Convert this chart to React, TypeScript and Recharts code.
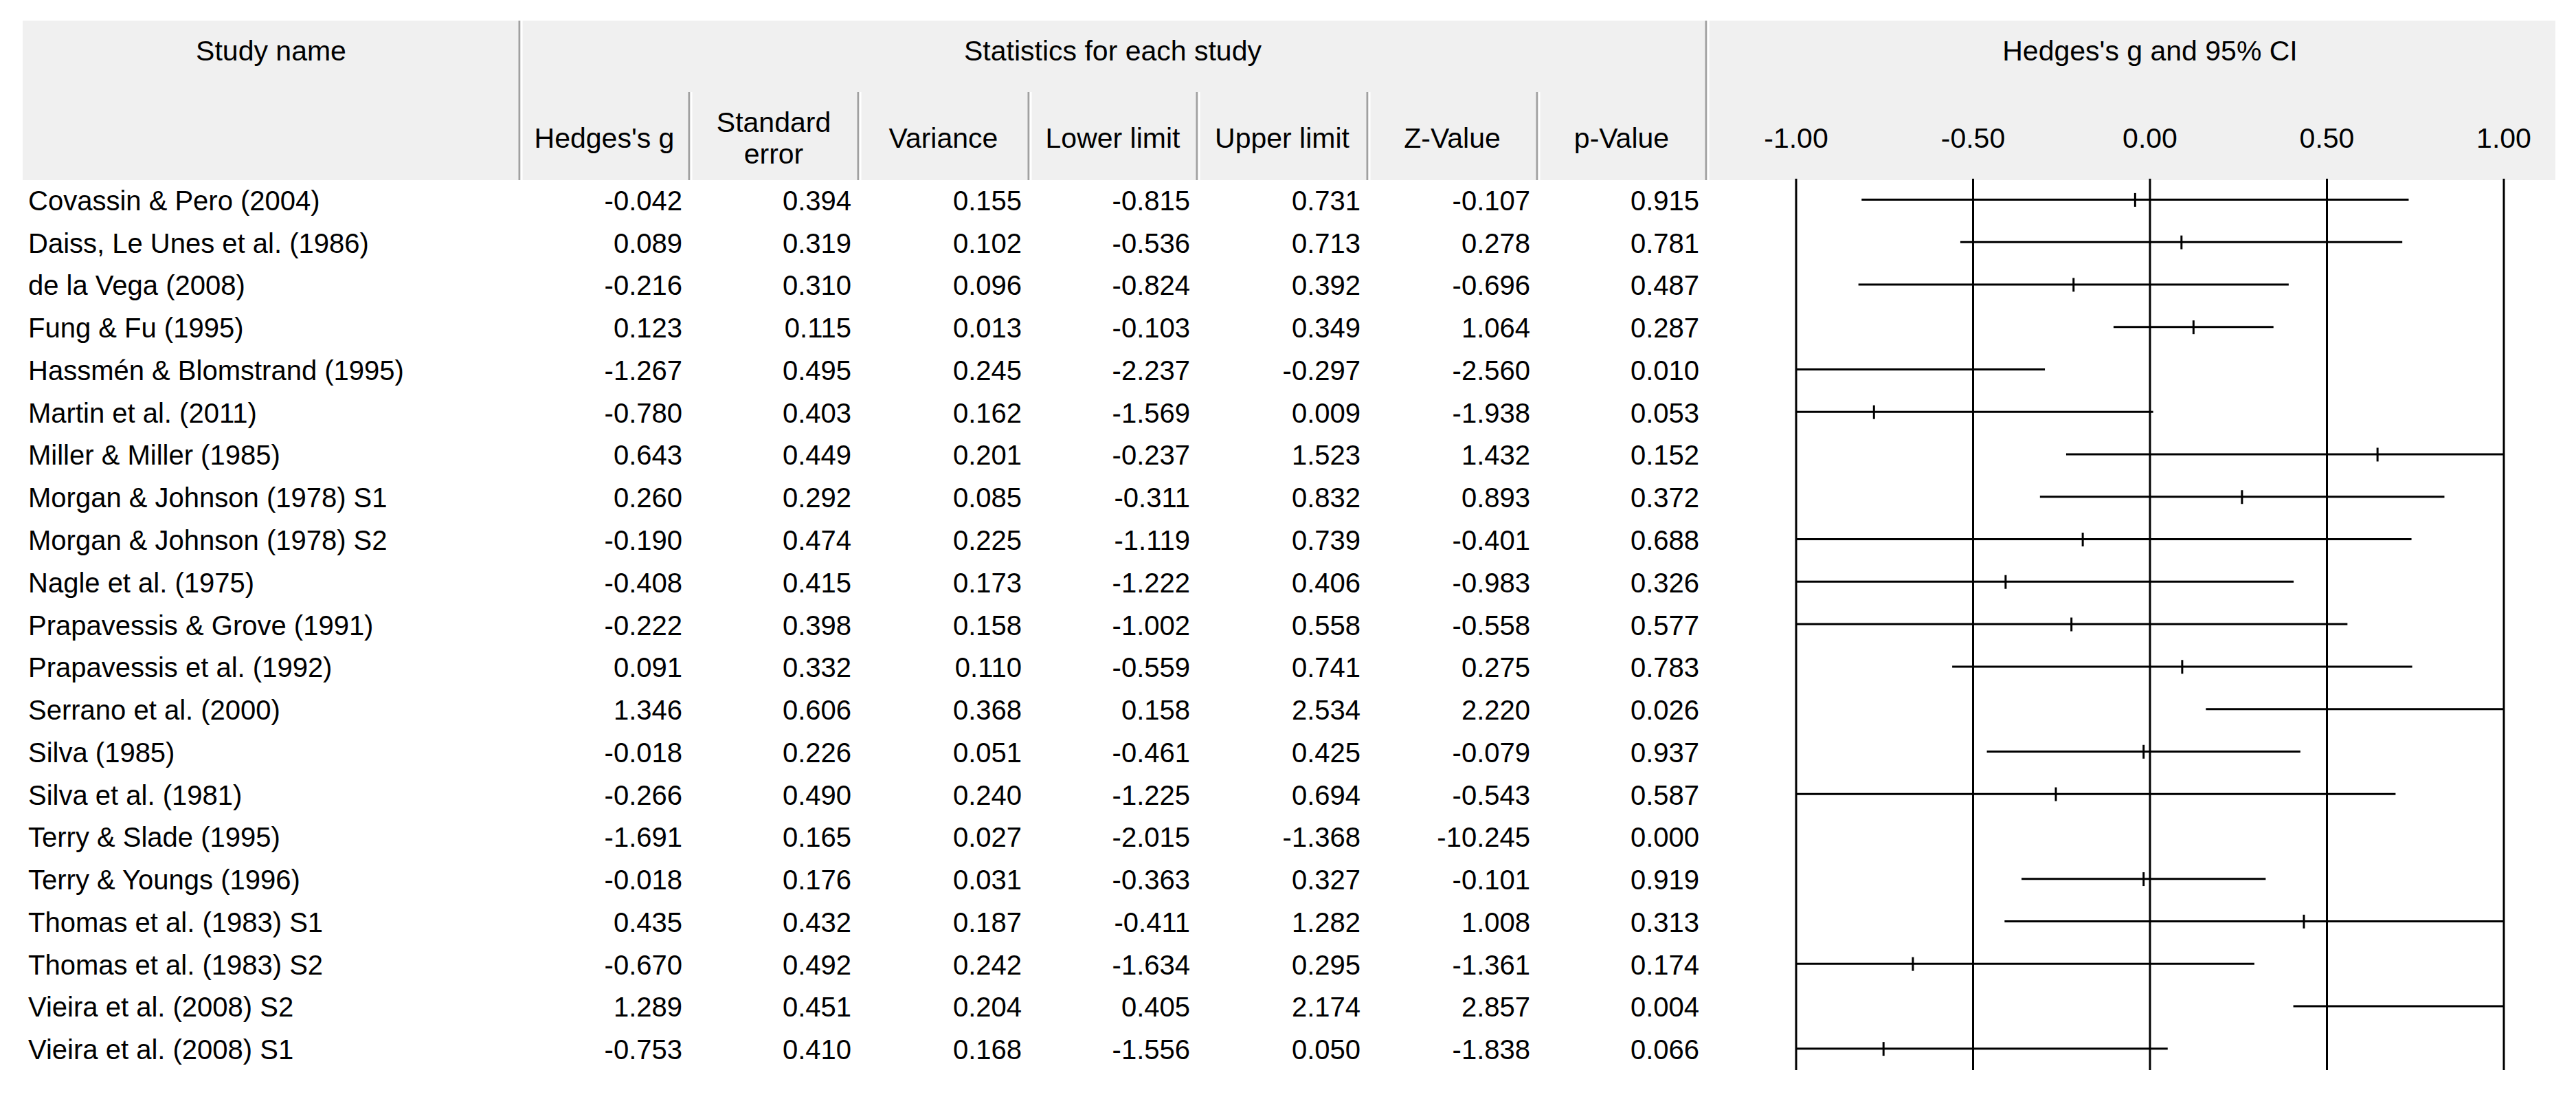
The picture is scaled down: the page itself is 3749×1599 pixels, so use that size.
import React from 'react'
import { ComposedChart, XAxis, YAxis, CartesianGrid, Bar, Scatter } from 'recharts'

const studies = [
  'Covassin & Pero (2004)',
  'Daiss, Le Unes et al. (1986)',
  'de la Vega (2008)',
  'Fung & Fu (1995)',
  'Hassmén & Blomstrand (1995)',
  'Martin et al. (2011)',
  'Miller & Miller (1985)',
  'Morgan & Johnson (1978) S1',
  'Morgan & Johnson (1978) S2',
  'Nagle et al. (1975)',
  'Prapavessis & Grove (1991)',
  'Prapavessis et al. (1992)',
  'Serrano et al. (2000)',
  'Silva (1985)',
  'Silva et al. (1981)',
  'Terry & Slade (1995)',
  'Terry & Youngs (1996)',
  'Thomas et al. (1983) S1',
  'Thomas et al. (1983) S2',
  'Vieira et al. (2008) S2',
  'Vieira et al. (2008) S1',
]
const hedgesG = [-0.042, 0.089, -0.216, 0.123, -1.267, -0.78, 0.643, 0.26, -0.19, -0.408, -0.222, 0.091, 1.346, -0.018, -0.266, -1.691, -0.018, 0.435, -0.67, 1.289, -0.753]
const stdError = [0.394, 0.319, 0.31, 0.115, 0.495, 0.403, 0.449, 0.292, 0.474, 0.415, 0.398, 0.332, 0.606, 0.226, 0.49, 0.165, 0.176, 0.432, 0.492, 0.451, 0.41]
const variance = [0.155, 0.102, 0.096, 0.013, 0.245, 0.162, 0.201, 0.085, 0.225, 0.173, 0.158, 0.11, 0.368, 0.051, 0.24, 0.027, 0.031, 0.187, 0.242, 0.204, 0.168]
const lowerLimit = [-0.815, -0.536, -0.824, -0.103, -2.237, -1.569, -0.237, -0.311, -1.119, -1.222, -1.002, -0.559, 0.158, -0.461, -1.225, -2.015, -0.363, -0.411, -1.634, 0.405, -1.556]
const upperLimit = [0.731, 0.713, 0.392, 0.349, -0.297, 0.009, 1.523, 0.832, 0.739, 0.406, 0.558, 0.741, 2.534, 0.425, 0.694, -1.368, 0.327, 1.282, 0.295, 2.174, 0.05]
const zValue = [-0.107, 0.278, -0.696, 1.064, -2.56, -1.938, 1.432, 0.893, -0.401, -0.983, -0.558, 0.275, 2.22, -0.079, -0.543, -10.245, -0.101, 1.008, -1.361, 2.857, -1.838]
const pValue = [0.915, 0.781, 0.487, 0.287, 0.01, 0.053, 0.152, 0.372, 0.688, 0.326, 0.577, 0.783, 0.026, 0.937, 0.587, 0.0, 0.919, 0.313, 0.174, 0.004, 0.066]
const xTicks = [-1, -0.5, 0, 0.5, 1]

const columnHeads = [['Hedges\'s g'], ['Standard', 'error'], ['Variance'], ['Lower limit'], ['Upper limit'], ['Z-Value'], ['p-Value']]
const columnValues = [hedgesG, stdError, variance, lowerLimit, upperLimit, zValue, pValue]

const rows = studies.map((name, i) => ({
  name,
  g: hedgesG[i],
  ci: [lowerLimit[i], upperLimit[i]],
}))

// layout (page pixels)
const W = 3749
const H = 1599
const FONT = 'Arial, "Liberation Sans", sans-serif'
const FS = 41
const ROW_FS = 40
const HEAD_TOP = 30
const HEAD_BOTTOM = 262
const HEAD_LEFT = 33
const HEAD_RIGHT = 3719
const SUB_TOP = 134
const NAME_X = 41
const colEdges = [756, 1003, 1249, 1497, 1742, 1990, 2237, 2483]
const PLOT_LEFT = 2614
const PLOT_RIGHT = 3644
const PLOT_TOP = 260
const PLOT_BOTTOM = 1557

const RowTick = (props: any) => {
  const { y, payload } = props
  const i = studies.indexOf(payload.value)
  if (i < 0) return null
  return (
    <g fontFamily={FONT} fontSize={ROW_FS} fill="#000">
      <text x={NAME_X} y={y} dy={15} textAnchor="start">{studies[i]}</text>
      {columnValues.map((vals, j) => (
        <text key={j} x={colEdges[j + 1] - 10} y={y} dy={15} textAnchor="end">
          {vals[i].toFixed(3)}
        </text>
      ))}
    </g>
  )
}

const XTick = (props: any) => {
  const { x, payload } = props
  return (
    <text x={x} y={215} textAnchor="middle" fontFamily={FONT} fontSize={FS} fill="#000">
      {Number(payload.value).toFixed(2)}
    </text>
  )
}

const PointMark = (props: any) => {
  const { cx, cy } = props
  if (cx == null || cy == null) return null
  return <line x1={cx} x2={cx} y1={cy - 10} y2={cy + 10} stroke="#000" strokeWidth={3} />
}

function Divider({ x, top }: { x: number; top: number }) {
  return (
    <g>
      <rect x={x - 1.5} y={top} width={3} height={HEAD_BOTTOM - top} fill="#a0a0a0" />
      <rect x={x + 1.5} y={top} width={3} height={HEAD_BOTTOM - top} fill="#ffffff" />
    </g>
  )
}

function Header() {
  return (
    <svg width={W} height={H} style={{ position: 'absolute', left: 0, top: 0 }}>
      <rect x={HEAD_LEFT} y={HEAD_TOP} width={HEAD_RIGHT - HEAD_LEFT} height={HEAD_BOTTOM - HEAD_TOP} fill="#f0f0f0" />
      <Divider x={colEdges[0]} top={HEAD_TOP} />
      <Divider x={colEdges[7]} top={HEAD_TOP} />
      {colEdges.slice(1, 7).map((x) => (
        <Divider key={x} x={x} top={SUB_TOP} />
      ))}
      <g fontFamily={FONT} fontSize={FS} fill="#000" textAnchor="middle">
        <text x={(HEAD_LEFT + colEdges[0]) / 2} y={88}>Study name</text>
        <text x={(colEdges[0] + colEdges[7]) / 2} y={88}>Statistics for each study</text>
        <text x={(PLOT_LEFT + PLOT_RIGHT) / 2} y={88}>Hedges's g and 95% CI</text>
        {columnHeads.map((lines, j) => {
          const cx = (colEdges[j] + colEdges[j + 1]) / 2
          if (lines.length === 1) return <text key={j} x={cx} y={215}>{lines[0]}</text>
          return (
            <g key={j}>
              <text x={cx} y={192}>{lines[0]}</text>
              <text x={cx} y={238}>{lines[1]}</text>
            </g>
          )
        })}
      </g>
    </svg>
  )
}

export default function App() {
  return (
    <div style={{ position: 'absolute', left: 0, top: 0, width: W, height: H, background: '#fff' }}>
      <Header />
      <div style={{ position: 'absolute', left: 0, top: 0 }}>
        <ComposedChart
          width={W}
          height={H}
          data={rows}
          layout="vertical"
          margin={{ top: 0, left: 0, right: W - PLOT_RIGHT, bottom: H - PLOT_BOTTOM }}
        >
          <CartesianGrid horizontal={false} vertical stroke="#000" strokeWidth={3} />
          <XAxis
            type="number"
            orientation="top"
            domain={[-1, 1]}
            ticks={xTicks}
            allowDataOverflow
            height={PLOT_TOP}
            axisLine={false}
            tickLine={false}
            tick={<XTick />}
          />
          <YAxis
            type="category"
            dataKey="name"
            width={PLOT_LEFT}
            interval={0}
            axisLine={false}
            tickLine={false}
            tick={<RowTick />}
          />
          <Bar dataKey="ci" fill="#000" barSize={3} isAnimationActive={false} />
          <Scatter dataKey="g" shape={<PointMark />} isAnimationActive={false} />
        </ComposedChart>
      </div>
    </div>
  )
}
